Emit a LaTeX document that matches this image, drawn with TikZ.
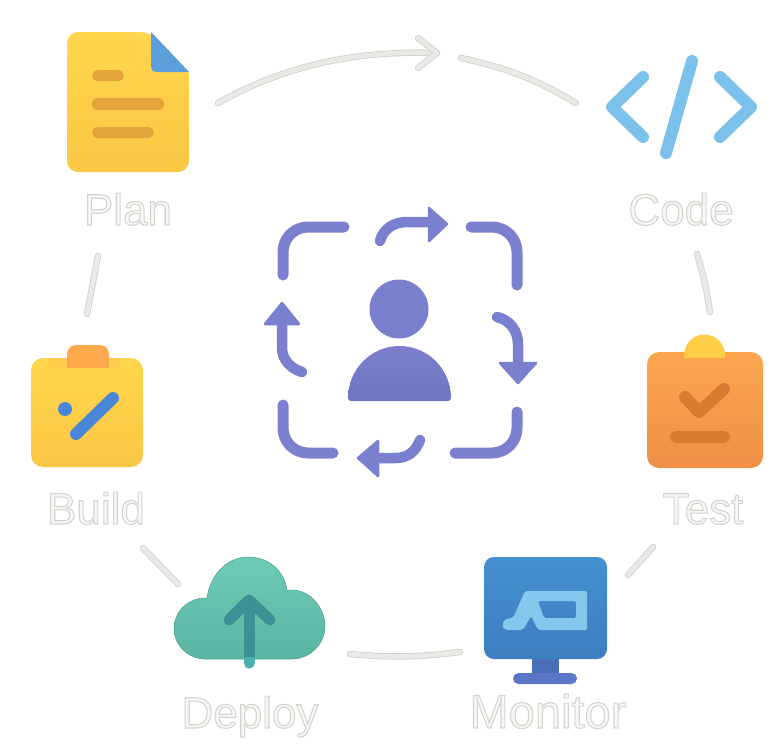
\documentclass[tikz,border=0pt]{standalone}
\usepackage{fontspec}
\setmainfont{Liberation Sans}
\usepackage{tikz}
\usetikzlibrary{positioning}
\definecolor{flowedge}{HTML}{CFCFCB}
\definecolor{flowfill}{HTML}{E9E9E6}
\definecolor{ringblue}{HTML}{7B80CE}
\definecolor{ringdeep}{HTML}{6F75C2}
\definecolor{sunny}{HTML}{FFD64D}
\definecolor{sunnylow}{HTML}{FAC744}
\definecolor{amber}{HTML}{E4A43A}
\definecolor{fold}{HTML}{5B9EDC}
\definecolor{sky}{HTML}{7CC0EC}
\definecolor{peach}{HTML}{FBA64E}
\definecolor{peachlow}{HTML}{EE8F45}
\definecolor{rust}{HTML}{D97B2F}
\definecolor{tabbright}{HTML}{FFCD46}
\definecolor{tabwarm}{HTML}{FFA94D}
\definecolor{screen}{HTML}{4490CF}
\definecolor{screenlow}{HTML}{3C7FC0}
\definecolor{glyph}{HTML}{85C8EE}
\definecolor{neck}{HTML}{4A6FB8}
\definecolor{foot}{HTML}{5B76C6}
\definecolor{mint}{HTML}{6ECBB5}
\definecolor{mintlow}{HTML}{5AB5A3}
\definecolor{mintedge}{HTML}{4A9C90}
\definecolor{teal}{HTML}{3B9194}
\definecolor{teallight}{HTML}{4DAFA9}
\definecolor{pen}{HTML}{4A86D8}
\tikzset{
    flow/.style={line cap=round,draw=flowedge,double=flowfill,double distance=4.8pt,line width=0.8pt},
    caption/.style={font=\fontsize{44}{44}\selectfont,inner sep=0pt,anchor=base},
    stroke/.style={line cap=round,line join=round,line width=11pt},
    pill/.style={fill=#1,rounded corners=5.5pt},
    ring/.style={line cap=round,line width=11pt,draw=ringblue},
    turn/.style={line cap=round,line width=10.5pt,draw=ringblue},
    head/.style={fill=ringblue,draw=ringblue,line width=2.5pt,line join=round}
}
\newcommand{\hollow}[1]{\special{pdf:code 2 Tr 1.1 w 0.83 0.83 0.81 RG 0.97 0.97 0.96 rg}#1\special{pdf:code 0 Tr 0 g 0 G}}

\begin{document}
\begin{tikzpicture}[x=1pt,y=-1pt,>=stealth]
    \useasboundingbox (0,0) rectangle (784,753);

    % plan
    \path[top color=sunny,bottom color=sunnylow,rounded corners=11pt]
        (67,32) -- (151,32) [sharp corners] -- (189,72) [rounded corners=11pt] -- (189,172) -- (67,172) -- cycle;
    \fill[fold] (151,32) -- (189,72) [rounded corners=5pt] -- (151,72) [sharp corners] -- cycle;
    \fill[pill=amber] (92,70) rectangle (124,81);
    \fill[pill=amber] (92,98) rectangle (164,110);
    \fill[pill=amber] (92,127) rectangle (154,138);
    \node[caption] (plan) at (128,225) {\hollow{Plan}};

    % code
    \draw[stroke,line width=12pt,sky] (643,77) -- (612,107) -- (643,137);
    \draw[stroke,line width=12pt,sky] (720,77) -- (751,107) -- (720,137);
    \draw[stroke,line width=12pt,sky] (692,61) -- (666,153);
    \node[caption] (code) at (681,225) {\hollow{Code}};

    % test
    \fill[tabbright] (684,355) arc[start angle=180,end angle=360,radius=20.5] -- cycle;
    \path[top color=peach,bottom color=peachlow,rounded corners=12pt]
        (647,352) rectangle (763,468);
    \fill[tabbright] (684.2,352) rectangle (724.8,358);
    \draw[stroke,line width=12pt,rust] (685,397) -- (699,412) -- (724,389);
    \fill[pill=rust] (670,431) rectangle (730,443);
    \node[caption] (test) at (703,524) {\hollow{Test}};

    % monitor
    \fill[neck] (532,655) rectangle (559,675);
    \fill[foot,rounded corners=5.5pt] (513,673) rectangle (577,684);
    \path[top color=screen,bottom color=screenlow,rounded corners=10pt]
        (484,557) rectangle (607,659);
    \fill[glyph,even odd rule,rounded corners=2pt]
        (502,625) -- (505,619) -- (513,618) -- (525,591) -- (587,591) -- (587,630) -- (538,630) -- (531,616) -- (523,630) -- (505,630) -- cycle
        (538,601) -- (576,601) -- (576,618) -- (544,618) -- cycle;
    \node[caption,font=\fontsize{47}{47}\selectfont] (monitor) at (548,728) {\hollow{Monitor}};

    % deploy
    \path[draw=mintedge,line width=0.5pt,top color=mint,bottom color=mintlow]
        (205,659) .. controls (188,659) and (174,645) .. (174,628.5) .. controls (174,612) and (188,598) .. (205,598)
        -- (207,598) .. controls (210,575) and (227,557) .. (248,557) .. controls (268,557) and (284,570) .. (287,590)
        -- (292,590) .. controls (310,590) and (325,608) .. (325,626) .. controls (325,644) and (310,659) .. (292,659) -- cycle;
    \draw[stroke,teallight] (249,650) -- (249,663);
    \draw[stroke,teal] (229,620) -- (249,600) -- (270,620);
    \draw[line width=11pt,teal] (249,602) -- (249,657);
    \node[caption] (deploy) at (250,728) {\hollow{Deploy}};

    % build
    \fill[tabwarm,rounded corners=9pt] (67,372) -- (67,345) -- (109,345) -- (109,372) -- cycle;
    \path[top color=sunny,bottom color=sunnylow,rounded corners=12pt]
        (31,358) rectangle (143,467);
    \fill[tabwarm] (67,358) rectangle (109,368);
    \fill[tabwarm,opacity=0.2] (48,358) rectangle (120,368);
    \fill[pen] (65,409) circle (7);
    \draw[stroke,line width=12pt,pen] (76,434) -- (113,398);
    \node[caption] (build) at (96,524) {\hollow{Build}};

    % centre
    \fill[ringblue] (399,309) circle (29.5);
    \path[top color=ringblue,bottom color=ringdeep,rounded corners=3pt]
        (348,401) [sharp corners] -- (348,398) arc[x radius=51.5,y radius=52,start angle=180,end angle=360] [rounded corners=3pt] -- (451,401) -- cycle;

    \draw[ring] (283,275) -- (283,252) arc[start angle=180,end angle=270,radius=25] -- (344,227);
    \draw[ring] (471,227) -- (492,227) arc[start angle=270,end angle=360,radius=25] -- (517,285);
    \draw[ring] (517,412) -- (517,428) arc[start angle=0,end angle=90,radius=25] -- (455,453);
    \draw[ring] (283,405) -- (283,428) arc[start angle=180,end angle=90,radius=25] -- (333,453);

    \draw[turn] (380,241) .. controls (383,229) and (394,222) .. (407,222) -- (430,222);
    \draw[head] (429,208) -- (447,224) -- (429,241) -- cycle;
    \draw[turn] (497,317) .. controls (510,320) and (518,331) .. (518,344) -- (518,364);
    \draw[head] (500,363) -- (536,363) -- (518,383) -- cycle;
    \draw[turn] (420,440) .. controls (416,451) and (408,458) .. (396,458) -- (376,458);
    \draw[head] (378,441) -- (378,476) -- (358,458) -- cycle;
    \draw[turn] (302,372) .. controls (289,368) and (282,358) .. (282,348) -- (282,324);
    \draw[head] (265,324) -- (299,324) -- (282,303) -- cycle;

    % flow
    \coordinate (planout) at (218,103);
    \coordinate (arrowtip) at (437,53);
    \coordinate (barbup) at (418,38);
    \coordinate (barbdown) at (418,68);
    \coordinate (codein) at (461,58);
    \coordinate (codeend) at (576,103);
    \coordinate (codeout) at (697,254);
    \coordinate (testin) at (710,312);
    \coordinate (testout) at (653,547);
    \coordinate (monitorin) at (628,575);
    \coordinate (monitorout) at (460,652);
    \coordinate (deployin) at (350,654);
    \coordinate (deployout) at (178,584);
    \coordinate (buildin) at (143,548);
    \coordinate (buildout) at (87,314);
    \coordinate (planin) at (98,256);

    \draw[flow] (planout) .. controls (280,68) and (350,50) .. (arrowtip);
    \draw[flow,line join=round] (barbup) -- (arrowtip) -- (barbdown);
    \draw[flow] (codein) to [bend left=9] (codeend);
    \draw[flow] (codeout) to [bend left=4] (testin);
    \draw[flow] (testout) -- (monitorin);
    \draw[flow] (monitorout) to [bend left=6] (deployin);
    \draw[flow] (deployout) -- (buildin);
    \draw[flow] (buildout) -- (planin);
\end{tikzpicture}
\end{document}
